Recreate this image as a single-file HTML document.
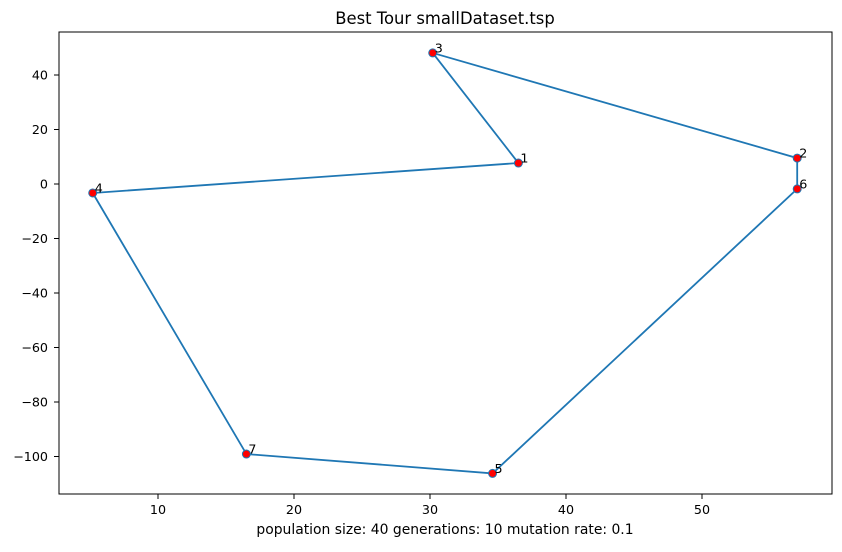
<!DOCTYPE html>
<html><head><meta charset="utf-8"><style>
body{margin:0;background:#fff;}
svg text{font-family:"DejaVu Sans","Liberation Sans",sans-serif;}
</style></head><body>
<svg id="chart" width="842" height="547" xmlns="http://www.w3.org/2000/svg">
<rect width="842" height="547" fill="#fff"/>
<text x="445" y="24" font-size="16.4" text-anchor="middle">Best Tour smallDataset.tsp</text>
<g id="axes"></g>
<g id="marks"></g>
<rect x="59" y="32" width="773" height="462" fill="none" stroke="#000" stroke-width="1"/>
<text x="445" y="534" font-size="13.9" text-anchor="middle">population size: 40 generations: 10 mutation rate: 0.1</text>
</svg>
<script>
const cityLabels = ["1","2","3","4","5","6","7"];
const cityX = [36.5, 57.0, 30.2, 5.2, 34.6, 57.0, 16.5];
const cityY = [7.7, 9.5, 48.1, -3.3, -106.2, -1.8, -99.1];
const tourOrder = [2, 0, 3, 6, 4, 5, 1, 2];
const xTicks = [10, 20, 30, 40, 50];
const yTicks = [40, 20, 0, -20, -40, -60, -80, -100];

const xs = v => 22 + v * 13.6;
const ys = v => 184 - v * 2.725;
const NS = "http://www.w3.org/2000/svg";
const axes = document.getElementById('axes');
const marks = document.getElementById('marks');
function mk(tag, attrs, parent){const e=document.createElementNS(NS,tag);for(const k in attrs)e.setAttribute(k,attrs[k]);parent.appendChild(e);return e;}

xTicks.forEach(t=>{
  const x=xs(t);
  const l=mk('line',{x1:x,x2:x,y1:494,y2:499,stroke:'#000'},axes);
  
  
  const tx=mk('text',{x:x,y:514,'font-size':12.7,'text-anchor':'middle'},axes);
  tx.textContent=t;
  
  
});
yTicks.forEach(t=>{
  const y=ys(t);
  const l=mk('line',{x1:54,x2:59,y1:y,y2:y,stroke:'#000'},axes);
  
  
  const tx=mk('text',{x:48,y:y+4.5,'font-size':12.7,'text-anchor':'end'},axes);
  tx.textContent=(t<0?'\u2212'+(-t):t);
  
  
});
const pts=tourOrder.map(i=>xs(cityX[i])+','+ys(cityY[i])).join(' ');
const pl=mk('polyline',{points:pts,fill:'none',stroke:'#1f77b4','stroke-width':1.8},marks);


cityX.forEach((v,i)=>{
  const c=mk('circle',{cx:xs(v),cy:ys(cityY[i]),r:4,fill:'red',stroke:'#1f77b4','stroke-width':1},marks);
  
  
  const t=mk('text',{x:xs(v)+2,y:ys(cityY[i])-0.5,'font-size':12.7},marks);
  t.textContent=cityLabels[i];
  
  
});
</script>
</body></html>
